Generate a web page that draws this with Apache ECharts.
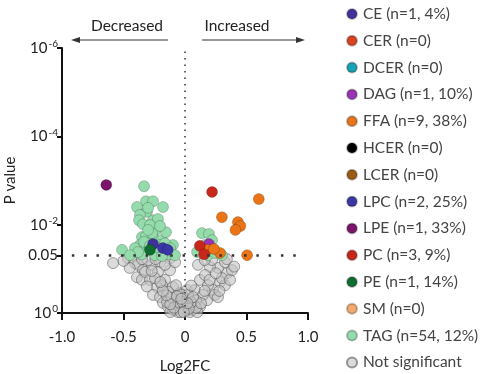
<!DOCTYPE html>
<html>
<head>
<meta charset="utf-8">
<script src="https://cdn.jsdelivr.net/npm/echarts@6/dist/echarts.min.js"></script>
<style>
  html, body { margin: 0; padding: 0; background: #fff; }
  #volcano { width: 482px; height: 374px; }
</style>
</head>
<body>
<div id="volcano"></div>
<script>
// points are [log2FC, -log10(p)]
const cePts = [[-0.26, 1.56]];
const cerPts = [];
const dcerPts = [];
const dagPts = [[0.195, 1.56]];
const ffaPts = [[0.60, 2.58], [0.30, 2.17], [0.43, 2.06], [0.45, 1.97], [0.41, 1.88],
  [0.285, 1.36], [0.505, 1.31], [0.18, 1.43], [0.235, 1.45]];
const hcerPts = [];
const lcerPts = [];
const lpcPts = [[-0.18, 1.47], [-0.14, 1.43]];
const lpePts = [[-0.64, 2.90]];
const pcPts = [[0.22, 2.74], [0.12, 1.52], [0.155, 1.33]];
const pePts = [[-0.285, 1.43]];
const smPts = [];
const tagPts = [
  [-0.333, 2.87], [-0.317, 2.53], [-0.26, 2.53], [-0.39, 2.40], [-0.309, 2.29], [-0.179, 2.40],
  [-0.366, 2.22], [-0.374, 2.10], [-0.341, 2.01], [-0.26, 2.10], [-0.22, 2.13], [-0.268, 1.95],
  [-0.244, 1.86], [-0.35, 1.72], [-0.26, 1.70], [-0.187, 1.65], [-0.317, 1.74], [-0.268, 1.81],
  [-0.366, 1.54], [-0.317, 1.43], [-0.22, 1.38], [-0.098, 1.54], [-0.512, 1.43], [-0.309, 1.58],
  [-0.203, 1.54], [-0.163, 1.58], [-0.407, 1.47], [-0.244, 1.31], [-0.138, 1.33], [-0.35, 1.33],
  [-0.285, 1.99], [-0.30, 2.38], [-0.122, 1.47], [-0.187, 1.29], [-0.154, 1.83], [-0.30, 1.88],
  [-0.203, 1.97], [-0.333, 1.61], [-0.285, 1.52], [-0.236, 1.49], [-0.382, 1.38], [-0.447, 1.31],
  [-0.081, 1.31],
  [0.138, 1.81], [0.195, 1.79], [0.098, 1.38], [0.187, 1.31], [0.244, 1.36], [0.30, 1.31],
  [0.163, 1.54], [0.22, 1.65]
];
const nsPts = [
  [-0.585, 1.13], [-0.463, 1.24], [-0.407, 1.13], [-0.382, 1.09], [-0.341, 0.97], [-0.39, 0.81],
  [-0.35, 0.75], [-0.325, 0.93], [-0.285, 0.75], [-0.268, 1.09], [-0.203, 1.15], [-0.122, 1.24],
  [-0.228, 0.59], [-0.26, 0.41], [-0.203, 0.36], [-0.179, 0.23], [-0.138, 0.14], [-0.081, 0.07],
  [-0.024, 0.11], [-0.098, 0.59], [-0.146, 0.25], [-0.098, 0.07], [-0.057, 0.29], [-0.041, 0.45],
  [-0.073, 0.63], [-0.163, 0.75], [-0.122, 0.97], [-0.22, 0.93], [-0.30, 1.20], [-0.163, 1.09],
  [-0.081, 1.15], [-0.187, 0.63], [-0.244, 0.79], [-0.138, 0.48], [-0.106, 0.34], [0, 0.18],
  [0.024, 0.07], [-0.016, 0.34], [0.016, 0.52], [0.041, 0.29],
  [0.057, 0.07], [0.122, 0.14], [0.179, 0.29], [0.228, 0.52], [0.244, 0.41], [0.285, 0.70],
  [0.325, 0.63], [0.341, 0.90], [0.268, 1.02], [0.203, 1.04], [0.106, 1.09], [0.30, 0.79],
  [0.366, 0.75], [0.268, 0.36], [0.016, 0.14], [0.081, 0.52], [0.122, 0.75], [0.163, 0.86],
  [0.187, 0.63], [0.146, 0.41], [0.089, 0.29], [0.22, 1.20], [0.325, 1.15], [0.382, 0.97],
  [-0.04, 0.18], [-0.008, 0.07], [-0.057, 0.02], [0.04, 0.02], [0.008, 0.29], [-0.073, 0.18],
  [0.073, 0.18], [-0.024, 0.41], [0.024, 0.41], [-0.033, 0.02], [0.1, 0.02], [-0.12, 0.02],
  [-0.09, 0.12], [0.09, 0.12], [-0.05, 0.24], [0.05, 0.24], [-0.12, 0.2], [0.13, 0.22],
  [-0.02, 0.25], [0.03, 0.1], [-0.065, 0.38], [0.065, 0.36], [-0.15, 0.4], [0.16, 0.5],
  [-0.18, 0.5], [0.2, 0.75], [-0.2, 0.7], [0.25, 0.9], [-0.27, 0.95], [0.28, 0.5],
  [-0.31, 0.6], [-0.45, 1.02], [-0.5, 1.18], [0.4, 1.05], [0.34, 1.22], [-0.35, 1.22],
  [-0.24, 1.22], [0.16, 1.2], [0.05, 0.62], [-0.01, 0.02], [0.02, 0.22], [-0.03, 0.32]
];
const yTicks = [0, 1.30103, 2, 4, 6];

const font = "Lato, 'Open Sans', sans-serif";
const chart = echarts.init(document.getElementById("volcano"));

function pts(name, color, data, z) {
  return {
    name: name,
    type: "scatter",
    data: data,
    symbolSize: 11,
    z: z || 4,
    itemStyle: { color: color, opacity: 1, borderColor: "rgba(0,0,0,0.25)", borderWidth: 0.8 },
  };
}

const legendNames = [
  "CE (n=1, 4%)", "CER (n=0)", "DCER (n=0)", "DAG (n=1, 10%)", "FFA (n=9, 38%)",
  "HCER (n=0)", "LCER (n=0)", "LPC (n=2, 25%)", "LPE (n=1, 33%)", "PC (n=3, 9%)",
  "PE (n=1, 14%)", "SM (n=0)", "TAG (n=54, 12%)", "Not significant"
];

const nsSeries = pts("Not significant", "#c9c9c9", nsPts, 2);
nsSeries.itemStyle = { color: "rgba(195,195,195,0.6)", opacity: 1, borderColor: "rgba(70,70,70,0.55)", borderWidth: 0.9 };

const option = {
  animation: false,
  textStyle: { fontFamily: font },
  grid: { left: 62, right: 174, top: 48, bottom: 61, outerBoundsMode: "none", containLabel: false },
  legend: {
    orient: "vertical",
    left: 346,
    top: 6,
    padding: 0,
    itemWidth: 10,
    itemHeight: 10,
    itemGap: 10.8,
    icon: "circle",
    data: legendNames,
    textStyle: { fontFamily: font, fontSize: 15.5, color: "#444", padding: [0, 0, 0, 1] },
  },
  xAxis: {
    type: "value",
    min: -1,
    max: 1,
    interval: 0.5,
    name: "Log2FC",
    nameLocation: "middle",
    nameGap: 46,
    nameTextStyle: { fontFamily: font, fontSize: 15, color: "#222" },
    splitLine: { show: false },
    axisLine: { onZero: false, lineStyle: { color: "#111", width: 2 } },
    axisTick: { show: true, length: 7, lineStyle: { color: "#111", width: 2 } },
    axisLabel: {
      margin: 17,
      fontSize: 15,
      color: "#222",
      formatter: (v) => (v === 0 ? "0" : v.toFixed(1)),
    },
  },
  yAxis: {
    type: "value",
    min: 0,
    max: 6,
    name: "P value",
    nameLocation: "middle",
    nameGap: 40,
    nameTextStyle: { fontFamily: font, fontSize: 15, color: "#222" },
    splitLine: { show: false },
    axisLine: { onZero: false, lineStyle: { color: "#111", width: 2 } },
    axisTick: { show: true, length: 5, customValues: yTicks, lineStyle: { color: "#111", width: 2 } },
    axisLabel: {
      margin: 4,
      customValues: yTicks,
      color: "#222",
      formatter: (v) => {
        if (Math.abs(v - 1.30103) < 0.01) return "{b|0.05}";
        const e = Math.round(v);
        return "{b|10}{s|" + (e === 0 ? "0" : "-" + e) + "}";
      },
      rich: {
        b: { fontFamily: font, fontSize: 15, color: "#222", lineHeight: 18 },
        s: { fontFamily: font, fontSize: 10, color: "#222", verticalAlign: "top", lineHeight: 18, padding: [0, 0, 8, 1] },
      },
    },
  },
  graphic: [
    { type: "text", x: 127, y: 26, style: { text: "Decreased", font: "15.5px " + font, fill: "#222", align: "center", verticalAlign: "middle" } },
    { type: "text", x: 237, y: 26, style: { text: "Increased", font: "15.5px " + font, fill: "#222", align: "center", verticalAlign: "middle" } },
    { type: "line", shape: { x1: 168, y1: 40, x2: 76, y2: 40 }, style: { stroke: "#333", lineWidth: 1 } },
    { type: "polygon", shape: { points: [[71, 40], [80, 37], [80, 43]] }, style: { fill: "#333" } },
    { type: "line", shape: { x1: 202, y1: 40, x2: 300, y2: 40 }, style: { stroke: "#333", lineWidth: 1 } },
    { type: "polygon", shape: { points: [[305, 40], [296, 37], [296, 43]] }, style: { fill: "#333" } },
  ],
  series: [
    {
      name: "guides",
      type: "line",
      data: [],
      z: 1,
      silent: true,
      markLine: {
        silent: true,
        symbol: "none",
        label: { show: false },
        animation: false,
        data: [
          [{ coord: [0, 0], lineStyle: { color: "#333", width: 1.5, type: [1.5, 5] } }, { coord: [0, 6] }],
          [{ coord: [-0.92, 1.30103], lineStyle: { color: "#333", width: 2.5, type: [2.5, 9.8] } }, { coord: [0.98, 1.30103] }],
        ],
      },
    },
    nsSeries,
    pts("TAG (n=54, 12%)", "#94dcab", tagPts, 3),
    pts("CE (n=1, 4%)", "#40329c", cePts),
    pts("CER (n=0)", "#d8431f", cerPts),
    pts("DCER (n=0)", "#17a2b5", dcerPts),
    pts("DAG (n=1, 10%)", "#9a33b4", dagPts),
    pts("FFA (n=9, 38%)", "#ea7416", ffaPts),
    pts("HCER (n=0)", "#000000", hcerPts),
    pts("LCER (n=0)", "#9a5a12", lcerPts),
    pts("LPC (n=2, 25%)", "#3b36a6", lpcPts),
    pts("LPE (n=1, 33%)", "#7c146a", lpePts),
    pts("PC (n=3, 9%)", "#c8281c", pcPts),
    pts("PE (n=1, 14%)", "#0f6d30", pePts),
    pts("SM (n=0)", "#f5a96c", smPts),
  ],
};

chart.setOption(option);
</script>
</body>
</html>
